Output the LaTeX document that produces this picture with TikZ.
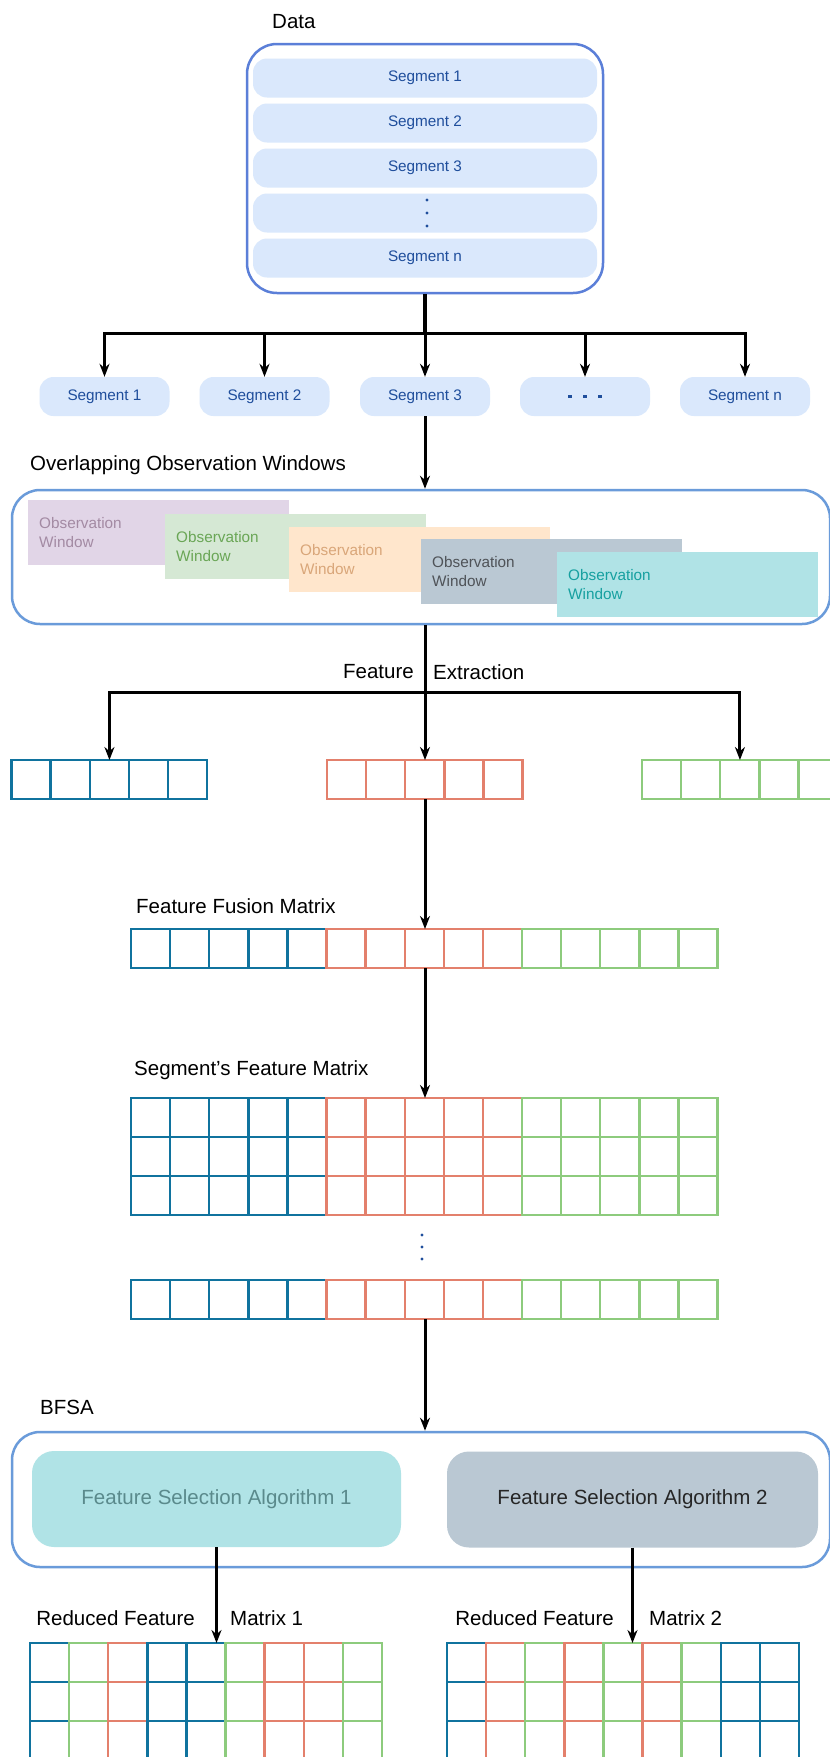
\documentclass[tikz,border=0pt]{standalone}
\usepackage{fontspec}
\setmainfont{Liberation Sans}
\usetikzlibrary{arrows.meta,positioning}

\definecolor{segfill}{HTML}{DAE8FC}
\definecolor{segtext}{HTML}{1F4E9C}
\definecolor{databorder}{HTML}{5B7FD8}
\definecolor{boxborder}{HTML}{6A9BDA}
\definecolor{featblue}{HTML}{10739E}
\definecolor{featred}{HTML}{E3806C}
\definecolor{featgreen}{HTML}{8DCB7D}
\definecolor{winpurple}{HTML}{E1D5E7}
\definecolor{winpurpletxt}{HTML}{A38AA3}
\definecolor{wingreen}{HTML}{D5E8D4}
\definecolor{wingreentxt}{HTML}{6AA656}
\definecolor{winorange}{HTML}{FFE6CC}
\definecolor{winorangetxt}{HTML}{D9A679}
\definecolor{wingray}{HTML}{BAC8D3}
\definecolor{wingraytxt}{HTML}{4F5358}
\definecolor{wincyan}{HTML}{B0E3E6}
\definecolor{wincyantxt}{HTML}{16A0A0}
\definecolor{algotxt}{HTML}{5A8A8C}

\tikzset{
    lbl/.style={
           anchor=west,
           inner sep=0pt,
           font=\fontsize{20.5}{24}\selectfont},
    segbox/.style={
           rectangle,
           rounded corners=14pt,
           fill=segfill,
           text=segtext,
           minimum height=39pt,
           font=\fontsize{15.3}{18}\selectfont},
    databox/.style={
           rectangle,
           rounded corners=30pt,
           draw=databorder, line width=2.5pt},
    container/.style={
           rectangle,
           rounded corners=28pt,
           draw=boxborder, line width=2.5pt},
    obswin/.style={
           rectangle,
           anchor=north west,
           minimum width=261pt,
           minimum height=65pt,
           text width=239pt,
           inner xsep=11pt,
           align=left,
           font=\fontsize{15.3}{19}\selectfont},
    rowbox/.style={rectangle, anchor=north west, inner sep=0pt,
           minimum height=39pt},% invisible frame of a row of cells
    cell/.style={line width=2.4pt},
    algo/.style={
           rectangle,
           rounded corners=22pt,
           minimum height=96pt,
           font=\fontsize{20.5}{24}\selectfont},
    arr/.style={->, line width=3pt},
    >={Stealth[length=13pt,width=10pt]}
    }

\begin{document}
\begin{tikzpicture}[x=1pt,y=-1pt]
      \useasboundingbox[fill=white] (0,0) rectangle (830,1757);

      % data
      \node[lbl] (datalbl) at (272,22) {Data};
      \node[databox, minimum width=356pt, minimum height=249pt] (data) at (425,168.5) {};
      \node[segbox, minimum width=344pt] (d1) at (425,78) {Segment 1};
      \node[segbox, minimum width=344pt] (d2) at (425,123) {Segment 2};
      \node[segbox, minimum width=344pt] (d3) at (425,168) {Segment 3};
      \node[segbox, minimum width=344pt] (d4) at (425,213) {};
      \node[segbox, minimum width=344pt] (d5) at (425,258) {Segment n};
      \foreach \dy in {-13,0,13}
        \fill[segtext] ([yshift=\dy pt]d4.center) ++(2,0) circle (1.6pt);

      % segments
      \coordinate (split) at (425,333);
      \node[segbox, minimum width=130pt] (s1) at (104.5,396.5) {Segment 1};
      \node[segbox, minimum width=130pt] (s2) at (264.5,396.5) {Segment 2};
      \node[segbox, minimum width=130pt] (s3) at (425,396.5) {Segment 3};
      \node[segbox, minimum width=130pt] (s4) at (585,396.5) {};
      \node[segbox, minimum width=130pt] (s5) at (745,396.5) {Segment n};
      \foreach \dx in {-15,0,15}
        \fill[segtext] ([xshift=\dx pt]s4.center) +(-1.7,-1.7) rectangle +(1.7,1.7);
      \draw[line width=4pt] (data.south) -- (split);
      \foreach \s in {s1,s2,s3,s4,s5}
        \draw[arr] (split) -| (\s.north);

      % observation windows
      \node[lbl] (owlbl) at (30,465) {Overlapping Observation Windows};
      \node[container, minimum width=818pt, minimum height=134pt] (ow) at (421,557) {};
      \node[obswin, fill=winpurple, text=winpurpletxt] (w1) at (28,500) {Observation\\Window};
      \node[obswin, fill=wingreen, text=wingreentxt] (w2) at (165,514) {Observation\\Window};
      \node[obswin, fill=winorange, text=winorangetxt] (w3) at (289,527) {Observation\\Window};
      \node[obswin, fill=wingray, text=wingraytxt] (w4) at (421,539) {Observation\\Window};
      \node[obswin, fill=wincyan, text=wincyantxt] (w5) at (557,552) {Observation\\Window};
      \draw[arr] (s3.south) -- (s3.south |- ow.north);

      % feature extraction
      \coordinate (fx) at (425,692);
      \node[lbl, anchor=east] (felbl1) at (414,672) {Feature};
      \node[lbl] (felbl2) at (433,672) {Extraction};
      \node[rowbox, minimum width=195.5pt] (vecB) at (11.5,760) {};
      \node[rowbox, minimum width=195.5pt] (vecR) at (327,760) {};
      \node[rowbox, minimum width=195.5pt] (vecG) at (642,760) {};
      \foreach \i in {0,...,4} {
        \draw[cell, featblue] ([xshift=\i*39.1pt]vecB.north west) rectangle ++(39.1,39);
        \draw[cell, featred] ([xshift=\i*39.1pt]vecR.north west) rectangle ++(39.1,39);
        \draw[cell, featgreen] ([xshift=\i*39.1pt]vecG.north west) rectangle ++(39.1,39);
      }
      \draw[line width=3pt] (s3.south |- ow.south) -- (fx);
      \draw[arr] (fx) -| (vecB.north);
      \draw[arr] (fx) -- (fx |- vecR.north);
      \draw[arr] (fx) -| (vecG.north);

      % fusion
      \node[lbl] (fuselbl) at (136,906) {Feature Fusion Matrix};
      \node[rowbox, minimum width=586.5pt] (fuse) at (131,929) {};
      \foreach \c [count=\i from 0] in {featblue,featblue,featblue,featblue,featblue,featred,featred,featred,featred,featred,featgreen,featgreen,featgreen,featgreen,featgreen}
        \draw[cell, \c] ([xshift=\i*39.1pt]fuse.north west) rectangle ++(39.1,39);
      \draw[arr] (fx |- vecR.south) -- (fx |- fuse.north);

      % segment matrix
      \node[lbl] (matlbl) at (134,1070) {Segment's Feature Matrix};
      \node[rowbox, minimum width=586.5pt, minimum height=117pt] (mat) at (131,1098) {};
      \node[rowbox, minimum width=586.5pt] (last) at (131,1280) {};
      \foreach \c [count=\i from 0] in {featblue,featblue,featblue,featblue,featblue,featred,featred,featred,featred,featred,featgreen,featgreen,featgreen,featgreen,featgreen} {
        \foreach \r in {0,1,2}
          \draw[cell, \c] ([xshift=\i*39.1pt,yshift=-\r*39pt]mat.north west) rectangle ++(39.1,39);
        \draw[cell, \c] ([xshift=\i*39.1pt]last.north west) rectangle ++(39.1,39);
      }
      \foreach \y in {1235,1247,1259}
        \fill[segtext] (422,\y) circle (1.6pt);
      \draw[arr] (fx |- fuse.south) -- (fx |- mat.north);

      % BFSA
      \node[lbl] (bfsalbl) at (40,1407) {BFSA};
      \node[container, minimum width=818pt, minimum height=135pt] (bfsa) at (421,1499.5) {};
      \node[algo, fill=wincyan, text=algotxt, minimum width=369pt] (fsa1) at (216.5,1499) {Feature Selection Algorithm 1};
      \node[algo, fill=wingray, text=black!85, minimum width=371pt] (fsa2) at (632.5,1499.5) {Feature Selection Algorithm 2};
      \draw[arr] (fx |- last.south) -- (fx |- bfsa.north);

      % reduced matrices
      \node[rowbox, minimum width=351.9pt, minimum height=117pt] (rm1) at (30,1643) {};
      \node[rowbox, minimum width=351.9pt, minimum height=117pt] (rm2) at (447,1643) {};
      \foreach \c [count=\i from 0] in {featblue,featgreen,featred,featblue,featblue,featgreen,featred,featred,featgreen}
        \foreach \r in {0,1,2}
          \draw[cell, \c] ([xshift=\i*39.1pt,yshift=-\r*39pt]rm1.north west) rectangle ++(39.1,39);
      \foreach \c [count=\i from 0] in {featblue,featred,featgreen,featred,featgreen,featred,featgreen,featblue,featblue}
        \foreach \r in {0,1,2}
          \draw[cell, \c] ([xshift=\i*39.1pt,yshift=-\r*39pt]rm2.north west) rectangle ++(39.1,39);
      \node[lbl, anchor=east] (rm1lblA) at (195,1618) {Reduced Feature};
      \node[lbl] (rm1lblB) at (230,1618) {Matrix 1};
      \node[lbl, anchor=east] (rm2lblA) at (614,1618) {Reduced Feature};
      \node[lbl] (rm2lblB) at (649,1618) {Matrix 2};
      \draw[arr] (fsa1.south) -- (fsa1.south |- rm1.north);
      \draw[arr] (fsa2.south) -- (fsa2.south |- rm2.north);
\end{tikzpicture}
\end{document}
